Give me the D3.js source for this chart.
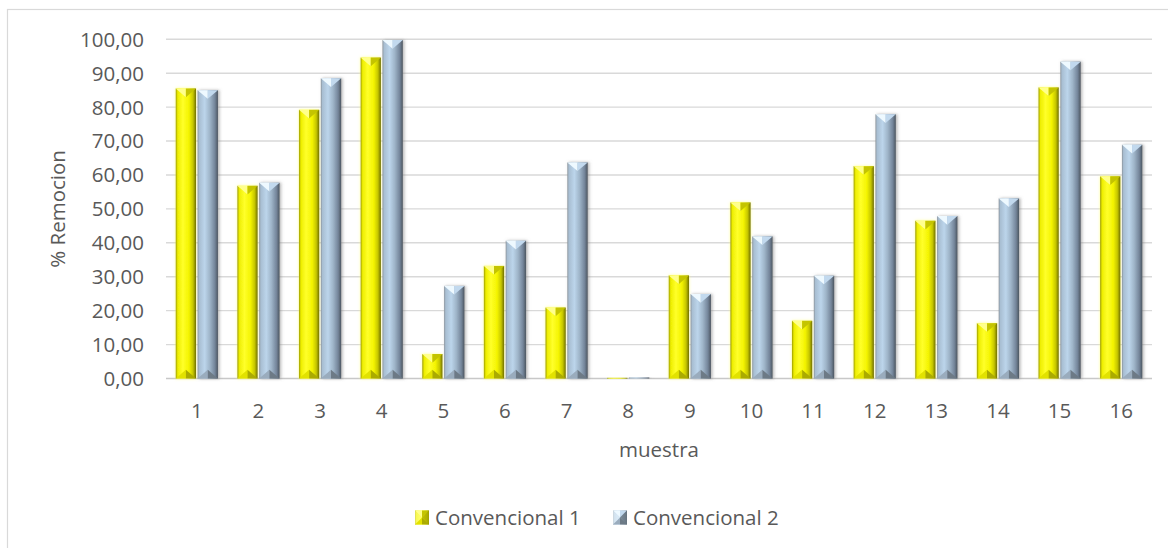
<!DOCTYPE html>
<html>
<head>
<meta charset="utf-8">
<script src="https://cdn.jsdelivr.net/npm/d3@7"></script>
<style>
  html, body { margin: 0; padding: 0; background: #ffffff; }
  svg { display: block; }
  text { font-family: "Open Sans", "Noto Sans", sans-serif; fill: #595959; }
</style>
</head>
<body>
<svg id="chart" width="1168" height="548"></svg>
<script>
const categories = ["1","2","3","4","5","6","7","8","9","10","11","12","13","14","15","16"];
const seriesNames = ["Convencional 1", "Convencional 2"];
const conv1 = [85.5, 56.8, 79.2, 94.6, 7.2, 33.2, 20.9, 0.2, 30.4, 51.9, 17.0, 62.6, 46.5, 16.3, 85.8, 59.6];
const conv2 = [85.0, 57.7, 88.5, 99.8, 27.3, 40.6, 63.7, 0.3, 24.9, 41.9, 30.3, 77.9, 47.9, 53.1, 93.4, 68.9];
const yTicks = [0, 10, 20, 30, 40, 50, 60, 70, 80, 90, 100];
const xTitle = "muestra";
const yTitle = "% Remocion";

const svg = d3.select("#chart");
const plot = { left: 166, right: 1152, top: 39.3, bottom: 378.5 };

// chart border
svg.append("rect")
  .attr("x", 7.5).attr("y", 9.5).attr("width", 1200).attr("height", 600)
  .attr("fill", "#ffffff").attr("stroke", "#d9d9d9").attr("stroke-width", 1.2);

const x0 = d3.scaleBand().domain(categories).range([plot.left, plot.right]).paddingInner(0).paddingOuter(0);
const x1 = d3.scaleBand().domain(seriesNames)
  .range([9.7, x0.bandwidth() - 9.7]).paddingInner(0.07).paddingOuter(0);
const y = d3.scaleLinear().domain([0, 100]).range([plot.bottom, plot.top]);

const fmt = v => d3.format(".2f")(v).replace(".", ",");

const defs = svg.append("defs");
const palettes = {
  "Convencional 1": {
    body: [[0, "#9c9c00"], [0.1, "#eeee00"], [0.35, "#ffff2a"], [0.65, "#f4f400"], [0.85, "#c6c600"], [1, "#6f6f00"]],
    topL: "#ffff8c", topR: "#c4c400", botL: "#e2e200", botR: "#abab00",
    glow: "#ffff66", glowOp: 0.7
  },
  "Convencional 2": {
    body: [[0, "#8b949c"], [0.08, "#a8bed2"], [0.35, "#bcd5eb"], [0.6, "#9fb5c9"], [0.85, "#74859a"], [1, "#4c5660"]],
    topL: "#eef9ff", topR: "#c2d9ee", botL: "#9aacbd", botR: "#6d7a86",
    glow: "#7a7a7a", glowOp: 0.55
  }
};
seriesNames.forEach((s, i) => {
  const g = defs.append("linearGradient").attr("id", "body" + i)
    .attr("x1", "0").attr("y1", "0").attr("x2", "1").attr("y2", "0");
  palettes[s].body.forEach(([o, c]) => g.append("stop").attr("offset", o).attr("stop-color", c));
  const f = defs.append("filter").attr("id", "glow" + i)
    .attr("x", "-50%").attr("y", "-10%").attr("width", "200%").attr("height", "120%");
  f.append("feDropShadow").attr("dx", i === 0 ? 0 : 1.5).attr("dy", 0)
    .attr("stdDeviation", 1.8)
    .attr("flood-color", palettes[s].glow).attr("flood-opacity", palettes[s].glowOp);
});

// gridlines
svg.append("g").selectAll("line").data(yTicks).join("line")
  .attr("x1", plot.left).attr("x2", plot.right)
  .attr("y1", d => y(d)).attr("y2", d => y(d))
  .attr("stroke", d => d === 0 ? "#c8c8c8" : "#d9d9d9")
  .attr("stroke-width", 1.4);

// y tick labels
svg.append("g").selectAll("text").data(yTicks).join("text")
  .attr("x", 144).attr("y", d => y(d))
  .attr("dy", "0.36em")
  .attr("text-anchor", "end")
  .attr("font-size", 20.5)
  .text(d => fmt(d));

// x labels
svg.append("g").selectAll("text").data(categories).join("text")
  .attr("x", d => x0(d) + x0.bandwidth() / 2)
  .attr("y", 411).attr("dy", "0.36em")
  .attr("text-anchor", "middle")
  .attr("font-size", 20.5)
  .text(d => d);

// axis titles
svg.append("text").attr("x", (plot.left + plot.right) / 2).attr("y", 450).attr("dy", "0.36em")
  .attr("text-anchor", "middle").attr("font-size", 20.5).text(xTitle);
svg.append("text")
  .attr("transform", `translate(58,${(plot.top + plot.bottom) / 2}) rotate(-90)`)
  .attr("dy", "0.36em")
  .attr("text-anchor", "middle").attr("font-size", 20.5).text(yTitle);

function bevelBar(g, bx, by, bw, bh, s, i, pyramid) {
  const p = palettes[s];
  const d = pyramid ? Math.min(bw, bh) / 2 : Math.min(bw / 2 * 0.85, bh / 2);
  const xl = bx, xr = bx + bw, xm = bx + bw / 2, yt = by, yb = by + bh;
  const grp = g.append("g").attr("filter", pyramid ? null : `url(#glow${i})`);
  grp.append("rect").attr("x", xl).attr("y", yt).attr("width", bw).attr("height", bh)
    .attr("fill", `url(#body${i})`);
  if (bh < 1.5) return;
  grp.append("path").attr("d", `M${xl},${yt}L${xm},${yt}L${xm},${yt + d}Z`).attr("fill", p.topL);
  grp.append("path").attr("d", `M${xm},${yt}L${xr},${yt}L${xm},${yt + d}Z`).attr("fill", p.topR);
  grp.append("path").attr("d", `M${xl},${yb}L${xm},${yb}L${xm},${yb - d}Z`).attr("fill", p.botL);
  grp.append("path").attr("d", `M${xm},${yb}L${xr},${yb}L${xm},${yb - d}Z`).attr("fill", p.botR);
  if (pyramid) {
    grp.append("path").attr("d", `M${xl},${yt}L${xm},${yt + d}L${xl},${yb}Z`).attr("fill", p.topL).attr("opacity", 0.6);
    grp.append("path").attr("d", `M${xr},${yt}L${xm},${yt + d}L${xr},${yb}Z`).attr("fill", p.botR).attr("opacity", 0.8);
  }
}

const seriesData = [conv1, conv2];
const barsG = svg.append("g");
categories.forEach((c, ci) => {
  seriesNames.forEach((s, si) => {
    const v = seriesData[si][ci];
    const bx = x0(c) + x1(s);
    const by = y(v);
    const bh = y(0) - y(v);
    bevelBar(barsG, bx, by, x1.bandwidth(), Math.max(bh, 0.8), s, si, false);
  });
});

const legendItems = [
  { name: seriesNames[0], sx: 415, tx: 435 },
  { name: seriesNames[1], sx: 613, tx: 633 }
];
const lg = svg.append("g");
legendItems.forEach((it, i) => {
  bevelBar(lg, it.sx, 510.5, 14, 14, it.name, i, true);
  lg.append("text").attr("x", it.tx).attr("y", 518).attr("dy", "0.36em")
    .attr("font-size", 20.5).text(it.name);
});
</script>
</body>
</html>
